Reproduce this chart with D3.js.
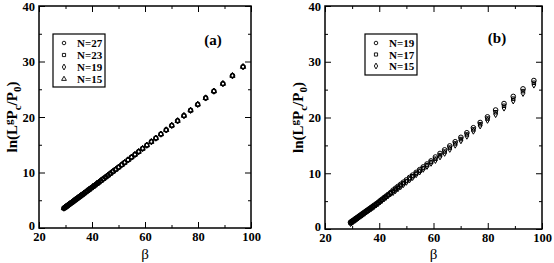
<!DOCTYPE html>
<html>
<head>
<meta charset="utf-8">
<script src="https://cdn.jsdelivr.net/npm/d3@7"></script>
<style>
  body { margin: 0; background: #fff; }
  svg { display: block; }
  text { font-family: "Liberation Serif", "Times New Roman", serif; }
</style>
</head>
<body>
<svg id="chart" width="554" height="263"></svg>
<script>
// beta values (shared by all series)
const beta = [97.0, 93.0, 89.4, 86.0, 82.9, 79.9, 77.2, 74.7, 72.3, 70.1, 68.0, 66.0, 64.1, 62.4, 60.7,
  59.1, 57.6, 56.2, 54.9, 53.6, 52.3, 51.2, 50.0, 48.9, 47.9, 46.9, 46.0, 45.1, 44.2, 43.3, 42.5,
  41.8, 41.0, 40.3, 39.6, 38.9, 38.2, 37.6, 37.0, 36.4, 35.8, 35.3, 34.7, 34.2, 33.7, 33.2, 32.7,
  32.3, 31.8, 31.4, 31.0, 30.5, 30.1, 29.7, 29.4];

// panel (a): the four sizes lie on top of each other
const lnA = [29.05, 27.44, 26.00, 24.65, 23.43, 22.26, 21.20, 20.24, 19.31, 18.47, 17.67, 16.91, 16.19, 15.55, 14.91,
  14.31, 13.75, 13.23, 12.75, 12.27, 11.79, 11.38, 10.94, 10.54, 10.18, 9.81, 9.48, 9.16, 8.83, 8.51, 8.22,
  7.97, 7.68, 7.43, 7.18, 6.93, 6.68, 6.46, 6.25, 6.03, 5.82, 5.64, 5.43, 5.26, 5.08, 4.90, 4.72,
  4.58, 4.41, 4.27, 4.13, 3.95, 3.81, 3.67, 3.57];

// panel (b)
const lnB19 = [26.63, 25.13, 23.78, 22.50, 21.34, 20.11, 19.10, 18.16, 17.26, 16.44, 15.65, 14.90, 14.19, 13.55, 12.91,
  12.21, 11.65, 11.13, 10.64, 10.15, 9.66, 9.25, 8.80, 8.39, 8.01, 7.64, 7.30, 6.96, 6.53, 6.19, 5.89,
  5.63, 5.33, 5.06, 4.77, 4.53, 4.28, 4.07, 3.86, 3.65, 3.44, 3.27, 3.06, 2.88, 2.71, 2.53, 2.36,
  2.22, 2.04, 1.90, 1.76, 1.59, 1.45, 1.31, 1.20];
const lnB17 = [26.23, 24.73, 23.38, 22.10, 20.94, 19.81, 18.80, 17.86, 16.96, 16.14, 15.35, 14.60, 13.89, 13.25, 12.61,
  12.01, 11.45, 10.93, 10.44, 9.95, 9.46, 9.05, 8.60, 8.19, 7.81, 7.44, 7.10, 6.76, 6.43, 6.09, 5.79,
  5.53, 5.23, 4.96, 4.67, 4.43, 4.18, 3.97, 3.76, 3.55, 3.34, 3.17, 2.96, 2.78, 2.61, 2.43, 2.26,
  2.12, 1.94, 1.80, 1.66, 1.49, 1.35, 1.21, 1.10];
const lnB15 = [25.83, 24.33, 22.98, 21.70, 20.54, 19.51, 18.50, 17.56, 16.66, 15.84, 15.05, 14.30, 13.59, 12.95, 12.31,
  11.81, 11.25, 10.73, 10.24, 9.75, 9.26, 8.85, 8.40, 7.99, 7.61, 7.24, 6.90, 6.56, 6.33, 5.99, 5.69,
  5.43, 5.13, 4.86, 4.57, 4.33, 4.08, 3.87, 3.66, 3.45, 3.24, 3.07, 2.86, 2.68, 2.51, 2.33, 2.16,
  2.02, 1.84, 1.70, 1.56, 1.39, 1.25, 1.11, 1.00];

const xMajor = [20, 40, 60, 80, 100];
const xMinor = [30, 50, 70, 90];
const yMajor = [0, 10, 20, 30, 40];
const yMinor = [5, 15, 25, 35];

const panels = [
  { tag: "(a)", x0: 39, x1: 251, y0: 6, y1: 228,
    series: [
      { label: "N=27", sym: d3.symbolCircle, y: lnA },
      { label: "N=23", sym: d3.symbolSquare, y: lnA },
      { label: "N=19", sym: d3.symbolDiamond, y: lnA },
      { label: "N=15", sym: d3.symbolTriangle, y: lnA }
    ],
    legend: { x: 53, y: 34, w: 52, h: 53, step: 12 },
    tagPos: [213, 45] },
  { tag: "(b)", x0: 325, x1: 542, y0: 6, y1: 229,
    series: [
      { label: "N=19", sym: d3.symbolCircle, y: lnB19 },
      { label: "N=17", sym: d3.symbolSquare, y: lnB17 },
      { label: "N=15", sym: d3.symbolDiamond, y: lnB15 }
    ],
    legend: { x: 365, y: 34, w: 52, h: 41, step: 11.5 },
    tagPos: [497, 43] }
];

const symSize = new Map([
  [d3.symbolCircle, 17], [d3.symbolSquare, 12], [d3.symbolDiamond, 11], [d3.symbolTriangle, 12]
]);

const svg = d3.select("#chart");

panels.forEach(p => {
  const x = d3.scaleLinear().domain([20, 100]).range([p.x0, p.x1]);
  const y = d3.scaleLinear().domain([0, 40]).range([p.y1, p.y0]);
  const g = svg.append("g");

  const styleAxis = sel => {
    sel.select(".domain").remove();
    sel.selectAll("line").attr("stroke", "#000");
    sel.selectAll("text")
      .attr("fill", "#000")
      .style("font-size", "12.5px")
      .style("font-weight", "bold")
      .style("font-family", "'Liberation Serif', serif");
  };

  // major + minor ticks on all four sides, pointing inward
  g.append("g").attr("transform", `translate(0,${p.y1})`)
    .call(d3.axisBottom(x).tickValues(xMajor).tickSize(-6).tickPadding(4).tickFormat(d3.format("d")))
    .call(styleAxis);
  g.append("g").attr("transform", `translate(0,${p.y1})`)
    .call(d3.axisBottom(x).tickValues(xMinor).tickSize(-3).tickFormat(""))
    .call(styleAxis);
  g.append("g").attr("transform", `translate(0,${p.y0})`)
    .call(d3.axisTop(x).tickValues(xMajor).tickSize(-6).tickFormat(""))
    .call(styleAxis);
  g.append("g").attr("transform", `translate(0,${p.y0})`)
    .call(d3.axisTop(x).tickValues(xMinor).tickSize(-3).tickFormat(""))
    .call(styleAxis);
  g.append("g").attr("transform", `translate(${p.x0},0)`)
    .call(d3.axisLeft(y).tickValues(yMajor).tickSize(-6).tickPadding(4).tickFormat(d3.format("d")))
    .call(styleAxis)
    .call(sel => sel.selectAll("text").filter(d => d === 0).attr("dy", "0.1em"));
  g.append("g").attr("transform", `translate(${p.x0},0)`)
    .call(d3.axisLeft(y).tickValues(yMinor).tickSize(-3).tickFormat(""))
    .call(styleAxis);
  g.append("g").attr("transform", `translate(${p.x1},0)`)
    .call(d3.axisRight(y).tickValues(yMajor).tickSize(-6).tickFormat(""))
    .call(styleAxis);
  g.append("g").attr("transform", `translate(${p.x1},0)`)
    .call(d3.axisRight(y).tickValues(yMinor).tickSize(-3).tickFormat(""))
    .call(styleAxis);

  g.append("rect")
    .attr("x", p.x0).attr("y", p.y0)
    .attr("width", p.x1 - p.x0).attr("height", p.y1 - p.y0)
    .attr("fill", "none").attr("stroke", "#000").attr("stroke-width", 1.5);

  // data points
  p.series.slice().reverse().forEach(s => {
    const sym = d3.symbol().type(s.sym).size(symSize.get(s.sym));
    g.selectAll(null)
      .data(beta.map((b, i) => ({ b, v: s.y[i] })))
      .enter().append("path")
      .attr("d", sym)
      .attr("transform", d => `translate(${x(d.b)},${y(d.v)})`)
      .attr("fill", "none")
      .attr("stroke", "#000")
      .attr("stroke-width", 1);
  });

  // legend
  const L = p.legend;
  g.append("rect")
    .attr("x", L.x).attr("y", L.y).attr("width", L.w).attr("height", L.h)
    .attr("fill", "#fff").attr("stroke", "#000").attr("stroke-width", 1.2);
  p.series.forEach((s, i) => {
    const ly = L.y + 9 + i * L.step;
    g.append("path")
      .attr("d", d3.symbol().type(s.sym).size(10))
      .attr("transform", `translate(${L.x + 11},${ly})`)
      .attr("fill", "none").attr("stroke", "#000").attr("stroke-width", 0.9);
    g.append("text")
      .attr("x", L.x + 24).attr("y", ly + 4)
      .style("font-size", "11px").style("font-weight", "bold")
      .text(s.label);
  });

  g.append("text")
    .attr("x", p.tagPos[0]).attr("y", p.tagPos[1])
    .attr("text-anchor", "middle")
    .style("font-size", "15px").style("font-weight", "bold")
    .text(p.tag);

  // axis titles
  g.append("text")
    .attr("x", (p.x0 + p.x1) / 2).attr("y", 259)
    .attr("text-anchor", "middle")
    .style("font-size", "15px")
    .text("β");

  const yl = g.append("text")
    .attr("transform", `translate(${p.x0 - 22},${(p.y0 + p.y1) / 2}) rotate(-90)`)
    .attr("text-anchor", "middle")
    .style("font-size", "15px").style("font-weight", "bold");
  yl.append("tspan").text("ln(L");
  yl.append("tspan").attr("dy", -5).style("font-size", "11px").text("g");
  yl.append("tspan").attr("dy", 5).text("P");
  yl.append("tspan").attr("dy", 4).style("font-size", "11px").text("c");
  yl.append("tspan").attr("dy", -4).text("/P");
  yl.append("tspan").attr("dy", 4).style("font-size", "11px").text("0");
  yl.append("tspan").attr("dy", -4).text(")");
});
</script>
</body>
</html>
